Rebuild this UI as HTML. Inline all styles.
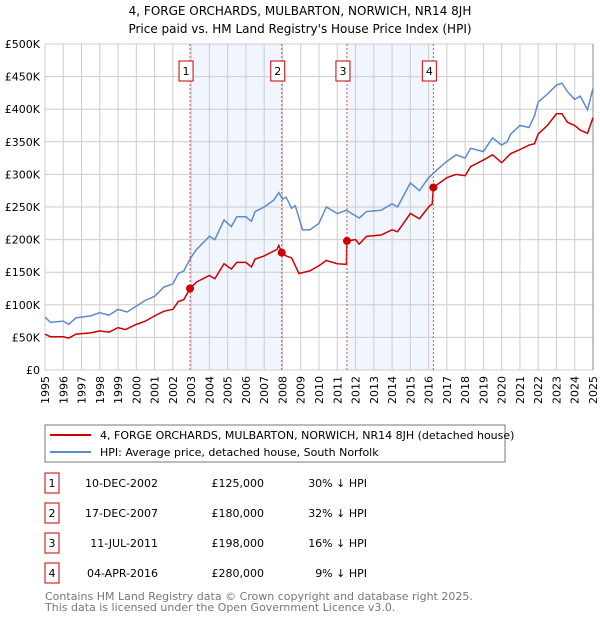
<!DOCTYPE html>
<html><head><meta charset="utf-8"><style>
body{margin:0;background:#fff;font-family:"DejaVu Sans","Liberation Sans",sans-serif;}
svg text{font-family:"DejaVu Sans","Liberation Sans",sans-serif;}
</style></head><body>
<svg id="chart" width="600" height="620" xmlns="http://www.w3.org/2000/svg">
<text x="300" y="15" text-anchor="middle" font-size="12">4, FORGE ORCHARDS, MULBARTON, NORWICH, NR14 8JH</text>
<text x="300" y="33" text-anchor="middle" font-size="12">Price paid vs. HM Land Registry's House Price Index (HPI)</text>
<g id="shade"></g><g id="grid"></g><g id="axes"></g><g id="series"></g><g id="marks"></g>
<rect x="45" y="425" width="460" height="37" fill="#fff" stroke="#777"/>
<line x1="50" y1="435" x2="91" y2="435" stroke="#cc0000" stroke-width="2"/>
<text x="100" y="439" font-size="11">4, FORGE ORCHARDS, MULBARTON, NORWICH, NR14 8JH (detached house)</text>
<line x1="50" y1="452" x2="91" y2="452" stroke="#5b8bd0" stroke-width="2"/>
<text x="100" y="456" font-size="11">HPI: Average price, detached house, South Norfolk</text>
<g id="table" font-size="11"></g>
<text x="45" y="600" font-size="11" fill="#777">Contains HM Land Registry data © Crown copyright and database right 2025.</text>
<text x="45" y="611" font-size="11" fill="#777">This data is licensed under the Open Government Licence v3.0.</text>
</svg>
<script>
const hpiYears=[1995,1995.3,1996,1996.3,1996.7,1997.5,1998,1998.5,1999,1999.5,2000,2000.5,2001,2001.5,2002,2002.3,2002.6,2003,2003.3,2004,2004.3,2004.8,2005.2,2005.5,2006,2006.3,2006.5,2007,2007.5,2007.8,2008,2008.2,2008.5,2008.7,2009.1,2009.5,2010,2010.4,2011,2011.5,2012.2,2012.6,2013.4,2014,2014.3,2015,2015.5,2016,2016.5,2017,2017.5,2018,2018.3,2019,2019.5,2020,2020.3,2020.5,2021,2021.5,2021.8,2022,2022.5,2023,2023.3,2023.6,2024,2024.3,2024.7,2025];
const hpiValues=[81,73,75,70,80,83,88,84,93,89,98,107,113,127,132,148,152,173,185,205,200,230,220,235,235,228,243,250,260,272,262,265,248,252,215,215,225,250,240,245,233,243,245,255,250,287,275,295,308,320,330,325,340,335,356,345,350,362,375,372,390,411,423,437,440,427,415,420,399,432];
const priceYears=[1995,1995.3,1996,1996.3,1996.7,1997.5,1998,1998.5,1999,1999.4,2000,2000.5,2001,2001.5,2002,2002.3,2002.6,2002.94,2003.3,2004,2004.3,2004.8,2005.2,2005.5,2006,2006.3,2006.5,2007,2007.7,2007.8,2007.96,2008.2,2008.5,2008.9,2009.5,2010,2010.4,2011,2011.5,2011.53,2012,2012.2,2012.6,2013.4,2014,2014.3,2015,2015.5,2016,2016.2,2016.26,2017,2017.5,2018,2018.3,2019,2019.5,2020,2020.5,2021,2021.5,2021.8,2022,2022.5,2023,2023.3,2023.6,2024,2024.3,2024.7,2025];
const priceValues=[55,51,51,49,55,57,60,58,65,62,70,75,83,90,93,105,108,125,135,145,140,163,155,165,165,158,170,175,185,191,180,175,172,148,152,160,168,163,162,198,200,193,205,207,215,212,240,232,250,255,280,295,300,298,312,322,330,318,332,338,345,347,362,375,393,393,380,375,368,363,387];
const saleLabels=["1","2","3","4"];
const saleYears=[2002.94,2007.96,2011.53,2016.26];
const saleValues=[125,180,198,280];
const saleDates=["10-DEC-2002","17-DEC-2007","11-JUL-2011","04-APR-2016"];
const salePrices=["£125,000","£180,000","£198,000","£280,000"];
const saleDiffs=["30% ↓ HPI","32% ↓ HPI","16% ↓ HPI","9% ↓ HPI"];
const yTicks=[0,50,100,150,200,250,300,350,400,450,500];
const yTickLabels=["£0","£50K","£100K","£150K","£200K","£250K","£300K","£350K","£400K","£450K","£500K"];
const xStart=1995,xEnd=2025;
const NS="http://www.w3.org/2000/svg";
const X0=45,X1=593,Y0=370,Y1=44;
const xs=v=>X0+(v-xStart)/(xEnd-xStart)*(X1-X0);
const ys=v=>Y0-v/500*(Y0-Y1);
function mk(t,a,p){const e=document.createElementNS(NS,t);for(const k in a)e.setAttribute(k,a[k]);document.getElementById(p).appendChild(e);return e;}
// shading
[[0,1],[2,3]].forEach((p,i)=>{const r=mk('rect',{x:xs(saleYears[p[0]]),y:Y1,width:xs(saleYears[p[1]])-xs(saleYears[p[0]]),height:Y0-Y1,fill:'#eef3fd',opacity:0.8},'shade');

});
// grid
yTicks.forEach((t,i)=>{const l=mk('line',{x1:X0,x2:X1,y1:ys(t),y2:ys(t),stroke:'#ccc'},'grid');


const tx=mk('text',{x:40,y:ys(t)+4,'text-anchor':'end','font-size':11},'axes');tx.textContent=yTickLabels[i];

});
for(let y=xStart;y<=xEnd;y++){const l=mk('line',{x1:xs(y),x2:xs(y),y1:Y1,y2:Y0,stroke:'#ccc'},'grid');


const tx=mk('text',{x:0,y:0,'text-anchor':'end','font-size':11,transform:`translate(${xs(y)+4},${Y0+6}) rotate(-90)`},'axes');tx.textContent=y;

}
const ax=mk('line',{x1:X1,x2:X1,y1:Y1,y2:Y0,stroke:'#888'},'axes');


// series
const hp=mk('polyline',{points:hpiYears.map((y,i)=>xs(y)+','+ys(hpiValues[i])).join(' '),fill:'none',stroke:'#5b8bd0','stroke-width':1.5},'series');


const pp=mk('polyline',{points:priceYears.map((y,i)=>xs(y)+','+ys(priceValues[i])).join(' '),fill:'none',stroke:'#cc0000','stroke-width':1.5},'series');


saleYears.forEach((y,i)=>{const l=mk('line',{x1:xs(y),x2:xs(y),y1:Y1,y2:Y0,stroke:'#e05050','stroke-dasharray':'2,2'},'marks');


const c=mk('circle',{cx:xs(y),cy:ys(saleValues[i]),r:4,fill:'#cc0000'},'marks');


const b=mk('rect',{x:xs(y)-11,y:61,width:14,height:20,fill:'#fff',stroke:'#cc0000'},'marks');


const t=mk('text',{x:xs(y)-4,y:75,'text-anchor':'middle','font-size':11},'marks');t.textContent=saleLabels[i];


const ry=473+i*30;
const tb=mk('rect',{x:45,y:ry,width:14,height:20,fill:'#fff',stroke:'#cc0000'},'table');


const tl=mk('text',{x:52,y:ry+14,'text-anchor':'middle'},'table');tl.textContent=saleLabels[i];


const td=mk('text',{x:158,y:ry+14,'text-anchor':'end'},'table');td.textContent=saleDates[i];


const tp=mk('text',{x:264,y:ry+14,'text-anchor':'end'},'table');tp.textContent=salePrices[i];


const tf=mk('text',{x:367,y:ry+14,'text-anchor':'end'},'table');tf.textContent=saleDiffs[i];

});
</script>
</body></html>
